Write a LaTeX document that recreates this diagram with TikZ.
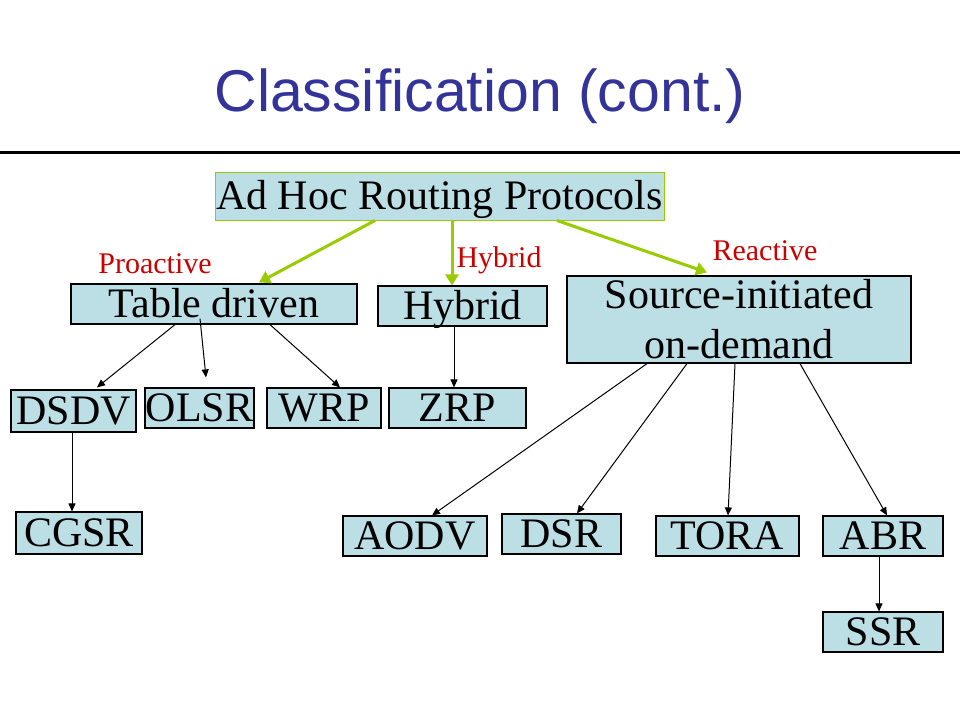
\documentclass[tikz,border=0pt]{standalone}
\usepackage{fontspec}
\setmainfont{Liberation Serif}
\newfontfamily\titlefont{Liberation Sans}
\usetikzlibrary{arrows.meta}
\definecolor{titleblue}{RGB}{51,51,153}
\definecolor{boxfill}{RGB}{188,223,229}
\definecolor{lime}{RGB}{153,204,0}
\definecolor{labelred}{RGB}{204,0,0}
\tikzset{
  box/.style={draw=black, line width=1.2pt, fill=boxfill, inner sep=0pt,
    font=\fontsize{42}{40}\selectfont, text height=27.5pt, text depth=0pt},
  rootbox/.style={box, draw=lime, line width=1pt},
  catlabel/.style={text=labelred, inner sep=0pt, font=\fontsize{30}{30}\selectfont,
    text height=19.6pt, text depth=0pt},
  thinarrow/.style={draw=black, line width=1pt, -{Triangle[length=8pt,width=7pt]}},
  greenarrow/.style={draw=lime, line width=3pt, -{Triangle[length=11pt,width=13pt]}},
}
\begin{document}
\begin{tikzpicture}[x=1pt, y=-1pt]
\useasboundingbox (0,0) rectangle (960,720);
\fill[white] (0,0) rectangle (960,720);
% title
\node[inner sep=0pt, text=titleblue, font=\titlefont\fontsize{59}{59}\selectfont,
  text height=42.2pt, text depth=0pt] (title) at (480,90) {Classification (cont.)};
\coordinate (ruleL) at (0,152);
\coordinate (ruleR) at (960,152);
\draw[line width=3pt] (ruleL) -- (ruleR);
% nodes
\node[rootbox, minimum width=449pt, minimum height=48pt] (root) at (439.5,196) {Ad Hoc Routing Protocols};
\node[box, minimum width=286pt, minimum height=40pt] (td) at (214,304) {Table driven};
\node[box, minimum width=169pt, minimum height=40pt] (hy) at (462.5,306) {Hybrid};
\node[box, minimum width=344pt, minimum height=87pt, align=center, text height=, text depth=,
  font=\fontsize{42}{50}\selectfont] (src) at (739,319.5)
  {Source-initiated\\on-demand};
\node[box, minimum width=125pt, minimum height=42pt] (dsdv) at (73.5,411) {DSDV};
\node[box, minimum width=109pt, minimum height=40pt] (olsr) at (199.5,408) {OLSR};
\node[box, minimum width=114pt, minimum height=40pt] (wrp) at (324,408) {WRP};
\node[box, minimum width=137pt, minimum height=40pt] (zrp) at (457.5,408) {ZRP};
\node[box, minimum width=126pt, minimum height=42pt] (cgsr) at (79,533) {CGSR};
\node[box, minimum width=144pt, minimum height=40pt] (aodv) at (415,536) {AODV};
\node[box, minimum width=119pt, minimum height=40pt] (dsr) at (561.5,534) {DSR};
\node[box, minimum width=143pt, minimum height=40pt] (tora) at (727.5,536) {TORA};
\node[box, minimum width=120pt, minimum height=40pt] (abr) at (883,536) {ABR};
\node[box, minimum width=120pt, minimum height=40pt] (ssr) at (883,632) {SSR};
% labels
\node[catlabel] (lpro) at (155,264) {Proactive};
\node[catlabel] (lhyb) at (499,258) {Hybrid};
\node[catlabel] (lrea) at (765,251) {Reactive};
% green arrows
\draw[greenarrow] ([xshift=-64.5pt]root.south) -- ([xshift=45pt,yshift=1pt]td.north);
\draw[greenarrow] ([xshift=12.5pt]root.south) -- ([xshift=-10.5pt]hy.north);
\draw[greenarrow] ([xshift=117.5pt]root.south) -- ([xshift=-32pt,yshift=3pt]src.north);
% black arrows
\draw[thinarrow] ([xshift=-39pt]td.south) -- ([xshift=23.5pt,yshift=2pt]dsdv.north);
\draw[thinarrow] ([xshift=-14pt,yshift=6pt]td.south) -- ([xshift=6.5pt,yshift=10pt]olsr.north);
\draw[thinarrow] ([xshift=56pt]td.south) -- ([xshift=16pt]wrp.north);
\draw[thinarrow] ([xshift=-8.5pt]hy.south) -- ([xshift=-3.5pt]zrp.north);
\draw[thinarrow] ([xshift=-1.5pt]dsdv.south) -- ([xshift=-7pt]cgsr.north);
\draw[thinarrow] ([xshift=-92pt]src.south) -- ([xshift=17pt]aodv.north);
\draw[thinarrow] ([xshift=-52pt]src.south) -- ([xshift=15.5pt]dsr.north);
\draw[thinarrow] ([xshift=-4pt]src.south) -- ([xshift=0.5pt]tora.north);
\draw[thinarrow] ([xshift=61pt]src.south) -- ([xshift=4pt]abr.north);
\draw[thinarrow] ([xshift=-4pt]abr.south) -- ([xshift=-4pt]ssr.north);
\end{tikzpicture}
\end{document}
